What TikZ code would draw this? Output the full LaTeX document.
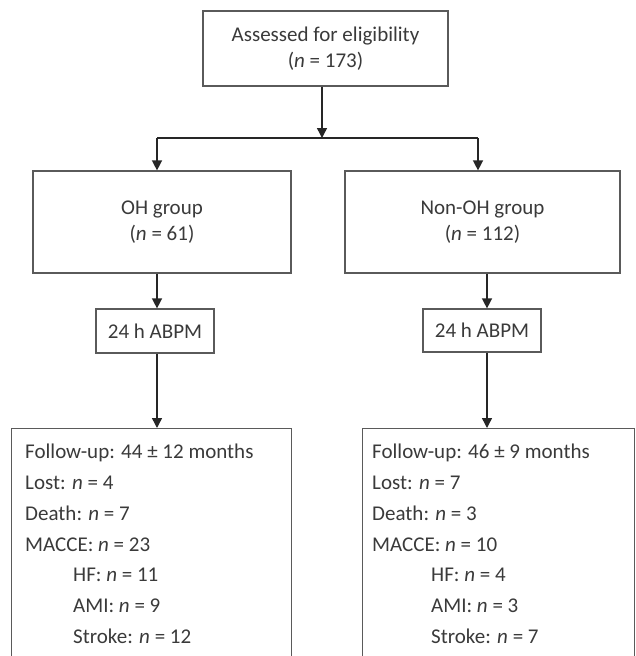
\documentclass[tikz,border=0pt]{standalone}
\usepackage{fontspec}
\setmainfont{Carlito}
\usetikzlibrary{arrows.meta}
\definecolor{ink}{HTML}{3A3A3A}
\definecolor{edge}{HTML}{5A5A5A}
\tikzset{
  box/.style={draw=edge, line width=1.2pt, inner sep=0pt, align=center, text=ink,
    font=\fontsize{21}{26.5}\selectfont},
  txt/.style={inner sep=0pt, align=left, text=ink, font=\fontsize{21}{30.8}\selectfont},
  arr/.style={draw=black!85, line width=1.4pt, -{Triangle[width=10pt,length=10pt]}},
  ln/.style={draw=black!85, line width=1.4pt}
}
\begin{document}
\begin{tikzpicture}[x=1pt,y=-1pt]
\useasboundingbox (0,0) rectangle (635,656);
\clip (0,0) rectangle (635,656);
\node[box, minimum width=245pt, minimum height=75pt] (top) at (325.5,48.5)
  {Assessed for eligibility\\(\textit{n} = 173)};
\node[box, minimum width=258pt, minimum height=102pt] (oh) at (162,222)
  {OH group\\(\textit{n} = 61)};
\node[box, minimum width=275pt, minimum height=102pt] (non) at (482.5,222)
  {Non-OH group\\(\textit{n} = 112)};
\node[box, minimum width=118pt, minimum height=44pt] (al) at (155,331) {24 h ABPM};
\node[box, minimum width=118pt, minimum height=43pt] (ar) at (482,330.5) {24 h ABPM};
\node[box, anchor=north west, minimum width=280pt, minimum height=280pt] (lb) at (11,428) {};
\node[box, anchor=north west, minimum width=272pt, minimum height=280pt] (rb) at (362,428) {};
\node[txt, anchor=north west] (lbt) at (25,444)
  {Follow-up: 44 ± 12 months\\
   Lost: \textit{n} = 4\\
   Death: \textit{n} = 7\\
   MACCE: \textit{n} = 23\\
   \hspace*{48pt}HF: \textit{n} = 11\\
   \hspace*{48pt}AMI: \textit{n} = 9\\
   \hspace*{48pt}Stroke: \textit{n} = 12};
\node[txt, anchor=north west] (rbt) at (372,444)
  {Follow-up: 46 ± 9 months\\
   Lost: \textit{n} = 7\\
   Death: \textit{n} = 3\\
   MACCE: \textit{n} = 10\\
   \hspace*{59pt}HF: \textit{n} = 4\\
   \hspace*{59pt}AMI: \textit{n} = 3\\
   \hspace*{59pt}Stroke: \textit{n} = 7};
\coordinate (j) at (322,138);
\coordinate (jl) at (157,138);
\coordinate (jr) at (478,138);
\coordinate (xr) at (487,0);
\draw[arr] (top.south -| j) -- (j);
\draw[ln] (jl) -- (jr);
\draw[arr] (jl) -- (jl |- oh.north);
\draw[arr] (jr) -- (jr |- non.north);
\draw[arr] (oh.south -| jl) -- (al.north -| jl);
\draw[arr] (al.south -| jl) -- (lb.north -| jl);
\draw[arr] (non.south -| xr) -- (ar.north -| xr);
\draw[arr] (ar.south -| xr) -- (rb.north -| xr);
\end{tikzpicture}
\end{document}
